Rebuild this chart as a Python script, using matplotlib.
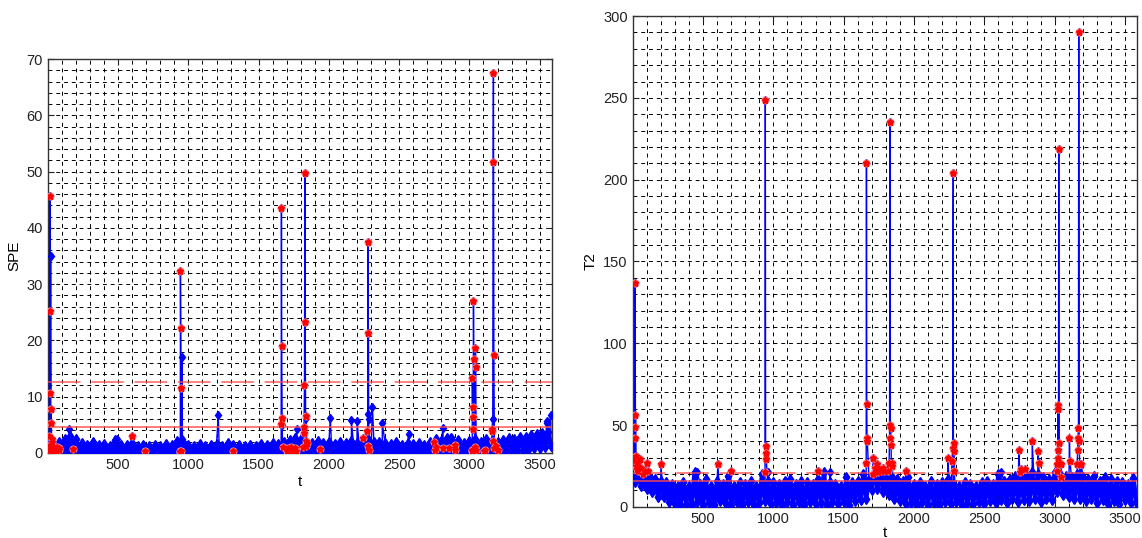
import matplotlib
matplotlib.use("Agg")
import matplotlib.pyplot as plt
from matplotlib.ticker import MultipleLocator
import numpy as np

plt.rcParams["font.family"] = ["Liberation Sans", "DejaVu Sans"]

# sample spacing of the background (normal) part of both series
step = 20

# SPE background band, one value every 20 samples (alternating band top / band bottom)
spe_base = [
    2.0, 0.1, 1.6, 0.2, 1.9, 0.3, 2.4, 0.5, 3.0, 0.6,
    2.5, 0.3, 1.7, 0.1, 1.5, 0.2, 1.9, 0.1, 1.4, 0.2,
    1.6, 0.1, 1.3, 0.2, 2.3, 0.1, 1.5, 0.2, 1.4, 0.1,
    1.7, 0.2, 1.3, 0.1, 1.5, 0.2, 1.2, 0.1, 1.4, 0.2,
    1.3, 0.1, 1.6, 0.2, 1.4, 0.1, 2.2, 0.3, 2.0, 0.2,
    1.5, 0.1, 1.3, 0.2, 1.6, 0.1, 1.2, 0.2, 1.4, 0.1,
    1.6, 0.2, 1.3, 0.1, 1.7, 0.2, 1.4, 0.1, 1.5, 0.2,
    1.3, 0.1, 1.5, 0.2, 1.2, 0.1, 1.6, 0.2, 1.4, 0.1,
    1.7, 0.2, 1.6, 0.3, 2.0, 0.4, 2.3, 0.3, 2.6, 0.5,
    2.4, 0.4, 2.0, 0.3, 1.8, 0.2, 2.1, 0.3, 1.7, 0.2,
    1.9, 0.2, 1.6, 0.3, 2.0, 0.2, 1.7, 0.3, 2.2, 0.2,
    1.8, 0.3, 2.1, 0.2, 2.4, 0.3, 1.9, 0.2, 2.0, 0.3,
    1.7, 0.2, 1.6, 0.1, 1.9, 0.2, 1.5, 0.1, 1.8, 0.2,
    1.6, 0.2, 1.8, 0.3, 1.5, 0.2, 2.0, 0.3, 2.4, 0.4,
    2.2, 0.3, 2.6, 0.4, 2.0, 0.3, 2.3, 0.2, 1.8, 0.3,
    2.2, 0.4, 2.5, 0.5, 2.0, 0.3, 2.4, 0.4, 2.2, 0.3,
    2.0, 0.3, 2.3, 0.4, 2.6, 0.5, 2.4, 0.4, 2.8, 0.6,
    2.9, 0.6, 3.2, 0.8, 3.4, 0.9, 3.6, 1.0, 3.8, 1.2,
]

# SPE isolated normal samples above the band
spe_blue_t = [19, 152, 490, 955, 957, 1212, 1667, 1770, 1838, 2010, 2160, 2200,
              2277, 2283, 2310, 2380, 2567, 2762, 2812, 2870, 3165, 3550, 3555, 3579]
spe_blue_v = [35.0, 4.2, 2.4, 17.0, 2.4, 6.75, 4.9, 4.3, 6.2, 6.3, 5.8, 5.7,
              7.0, 6.0, 8.2, 5.3, 3.3, 2.5, 4.4, 2.8, 6.1, 5.6, 5.3, 6.75]

# SPE fault samples (red)
spe_red_t = [5, 8, 10, 14, 16, 18, 20, 22, 24, 26, 28, 30, 35, 40, 45, 55, 65, 75, 80,
             181, 598, 688,
             940, 942, 943, 945, 947, 950,
             1320,
             1660, 1662, 1664, 1666, 1670,
             1705, 1712, 1720, 1728, 1735, 1745, 1755, 1765,
             1815, 1820, 1823, 1826, 1829, 1831, 1834, 1837, 1840, 1845,
             1940, 2240,
             2270, 2275, 2279, 2281, 2285,
             2745, 2752, 2760, 2814, 2855, 2895, 2898,
             3015, 3018, 3021, 3023, 3025, 3027, 3029, 3031, 3040, 3043, 3045, 3048,
             3105, 3108,
             3160, 3163, 3166, 3169, 3171, 3174, 3178, 3190, 3200]
spe_red_v = [3.0, 1.3, 0.6, 45.6, 25.3, 10.6, 0.2, 7.8, 5.4, 2.4, 1.9, 0.5, 1.0, 0.3, 0.8, 0.4, 1.0, 0.5, 0.9,
             0.65, 3.0, 0.35,
             0.3, 0.2, 32.4, 22.3, 11.5, 0.4,
             0.3,
             5.2, 43.6, 19.0, 6.3, 1.0,
             0.3, 0.8, 0.5, 1.0, 0.4, 0.7, 0.9, 0.4,
             1.0, 3.5, 4.6, 12.1, 49.7, 23.2, 6.5, 2.2, 1.2, 1.8,
             0.7, 2.7,
             3.9, 1.2, 37.5, 21.3, 0.5,
             2.0, 0.5, 1.0, 0.8, 0.9, 1.5, 0.6,
             0.3, 0.6, 13.4, 8.1, 6.4, 4.3, 27.1, 16.7, 1.0, 18.6, 15.2, 0.5,
             0.3, 0.6,
             4.2, 3.9, 2.2, 51.7, 67.6, 17.4, 0.8, 1.3, 0.6]

# T2 background band, one value every 20 samples
t2_base = [
    22, 15, 21, 13, 19, 11, 18, 9, 17, 6,
    16, 6, 15, 3, 14, 1.5, 13, 0.8, 15, 2.0,
    13, 1.2, 21, 3.0, 14, 0.8, 17, 2.5, 13, 1.0,
    16, 3.5, 14, 1.5, 19, 0.9, 13, 2.8, 15, 1.2,
    14, 3.0, 16, 0.9, 13, 2.2, 20, 3.5, 16, 1.5,
    15, 2.6, 14, 0.8, 16, 3.2, 17, 1.4, 14, 2.8,
    16, 1.0, 15, 3.0, 14, 1.6, 17, 2.4, 21, 1.2,
    15, 3.2, 14, 1.5, 13, 2.8, 18, 1.0, 15, 3.5,
    16, 4.0, 20, 5, 17, 10, 25, 11, 22, 9,
    20, 7, 18, 5, 17, 3.5, 16, 1.5, 18, 2.5,
    14, 1.0, 15, 3.0, 13, 1.4, 16, 2.6, 14, 0.9,
    15, 2.8, 17, 1.5, 14, 3.2, 13, 1.0, 15, 2.4,
    14, 1.6, 13, 3.0, 15, 2.0, 16, 3.5, 14, 2.5,
    20, 4.0, 16, 2.5, 17, 4.5, 19, 3.0, 18, 4.0,
    19, 3.5, 21, 5.0, 20, 3.0, 18, 4.5, 17, 4.0,
    21, 9, 20, 7, 19, 6, 18, 5, 20, 4.5,
    18, 3.5, 17, 4.5, 19, 2.5, 16, 4.0, 18, 2.0,
    17, 3.5, 16, 2.0, 15, 4.0, 14, 2.5, 17.5, 3.0,
]

# T2 isolated normal samples above the band
t2_blue_t = [460, 960, 1400, 2620, 3560]
t2_blue_v = [21, 21, 21, 21, 17.5]

# T2 fault samples (red)
t2_red_t = [6, 10, 14, 16, 18, 20, 22, 26, 30, 35, 40, 50, 60, 70, 85, 100, 110,
            200, 606, 697,
            941, 943, 945, 947, 949,
            1320,
            1660, 1662, 1664, 1666, 1668,
            1705, 1712, 1720, 1728, 1735, 1745, 1755, 1765, 1780, 1790,
            1815, 1820, 1823, 1826, 1829, 1831, 1834, 1837, 1840, 1845,
            1940, 2240,
            2270, 2275, 2279, 2281, 2283, 2285,
            2745, 2752, 2760, 2790, 2840, 2880, 2885,
            3015, 3018, 3021, 3023, 3025, 3027, 3029, 3031, 3040, 3043, 3045,
            3105, 3108,
            3160, 3163, 3166, 3169, 3171, 3174, 3178, 3190]
t2_red_v = [30, 28, 42, 49, 137, 56, 25, 31, 23, 27, 22, 29, 24, 20, 22, 27, 22,
            26, 26, 22,
            21, 249, 37, 33, 29,
            22,
            27, 210, 63, 42, 40,
            20, 30, 24, 22, 26, 21, 23, 22, 24, 22,
            22, 26, 27, 42, 235, 50, 48, 38, 27, 25,
            22, 30,
            28, 36, 204, 39, 34, 22,
            35, 21, 23, 23, 40, 34, 27,
            22, 26, 35, 62, 60, 30, 219, 39, 27, 18, 26,
            42, 28,
            26, 35, 42, 48, 290, 40, 26, 26]

# control limits
spe_limits = [4.6, 12.6]
t2_limits = [15.7, 20.4]


def series(base, blue_t, blue_v, red_t, red_v):
    t = np.concatenate([np.arange(len(base)) * step, blue_t, red_t]).astype(float)
    v = np.concatenate([base, blue_v, red_v]).astype(float)
    order = np.argsort(t, kind="stable")
    return t[order], v[order]


def draw(ax, base, blue_t, blue_v, red_t, red_v, limits, ymax, ymajor, yminor, ylabel):
    blue = "#0000ff"
    t, v = series(base, blue_t, blue_v, red_t, red_v)
    # dense background band (thick so the samples merge like in the original)
    ax.plot(np.arange(len(base)) * step, base, color=blue, lw=3.2, marker="d", ms=5.5, mec=blue, zorder=3)
    # full series, thin line up to the spikes
    ax.plot(t, v, color=blue, lw=1.0, marker="d", ms=4.5, mec=blue, zorder=3)

    # control limits
    ax.axhline(limits[0], color="#ff4a4a", lw=1.2, alpha=0.85, zorder=4)
    ax.axhline(limits[1], color="#ff4a4a", lw=1.3, alpha=0.75, dashes=(18, 6), zorder=4)

    # faulty samples
    ax.plot(red_t, red_v, ls="none", marker="o", ms=5, mfc="red", mec="#ff8a8a", mew=0.8, zorder=5)
    ax.plot(red_t, red_v, ls="none", marker="*", ms=4.5, color="red", zorder=6)

    ax.set_xlim(0, 3585)
    ax.set_ylim(0, ymax)
    ax.set_xticks([500, 1000, 1500, 2000, 2500, 3000, 3500])
    ax.yaxis.set_major_locator(MultipleLocator(ymajor))
    ax.xaxis.set_minor_locator(MultipleLocator(100))
    ax.yaxis.set_minor_locator(MultipleLocator(yminor))
    ax.grid(True, which="both", color="black", lw=0.7, dashes=(4, 4))
    ax.tick_params(which="both", direction="in", top=True, right=True, labelsize=10.5, colors="#222222")
    ax.tick_params(which="minor", length=0)
    ax.tick_params(which="major", length=4)
    ax.set_xlabel("t", fontsize=11)
    ax.set_ylabel(ylabel, fontsize=11)
    for s in ax.spines.values():
        s.set_linewidth(1.0)
        s.set_color("#333333")


fig = plt.figure(figsize=(11.42, 5.38), dpi=100)
ax1 = fig.add_axes([0.042, 0.158, 0.441, 0.732])
ax2 = fig.add_axes([0.554, 0.058, 0.4416, 0.912])

draw(ax1, spe_base, spe_blue_t, spe_blue_v, spe_red_t, spe_red_v, spe_limits, 70, 10, 2, "SPE")
draw(ax2, t2_base, t2_blue_t, t2_blue_v, t2_red_t, t2_red_v, t2_limits, 300, 50, 10, "T2")
ax1.xaxis.labelpad = 2
ax2.xaxis.labelpad = 0

fig.savefig("out.png", dpi=100)
